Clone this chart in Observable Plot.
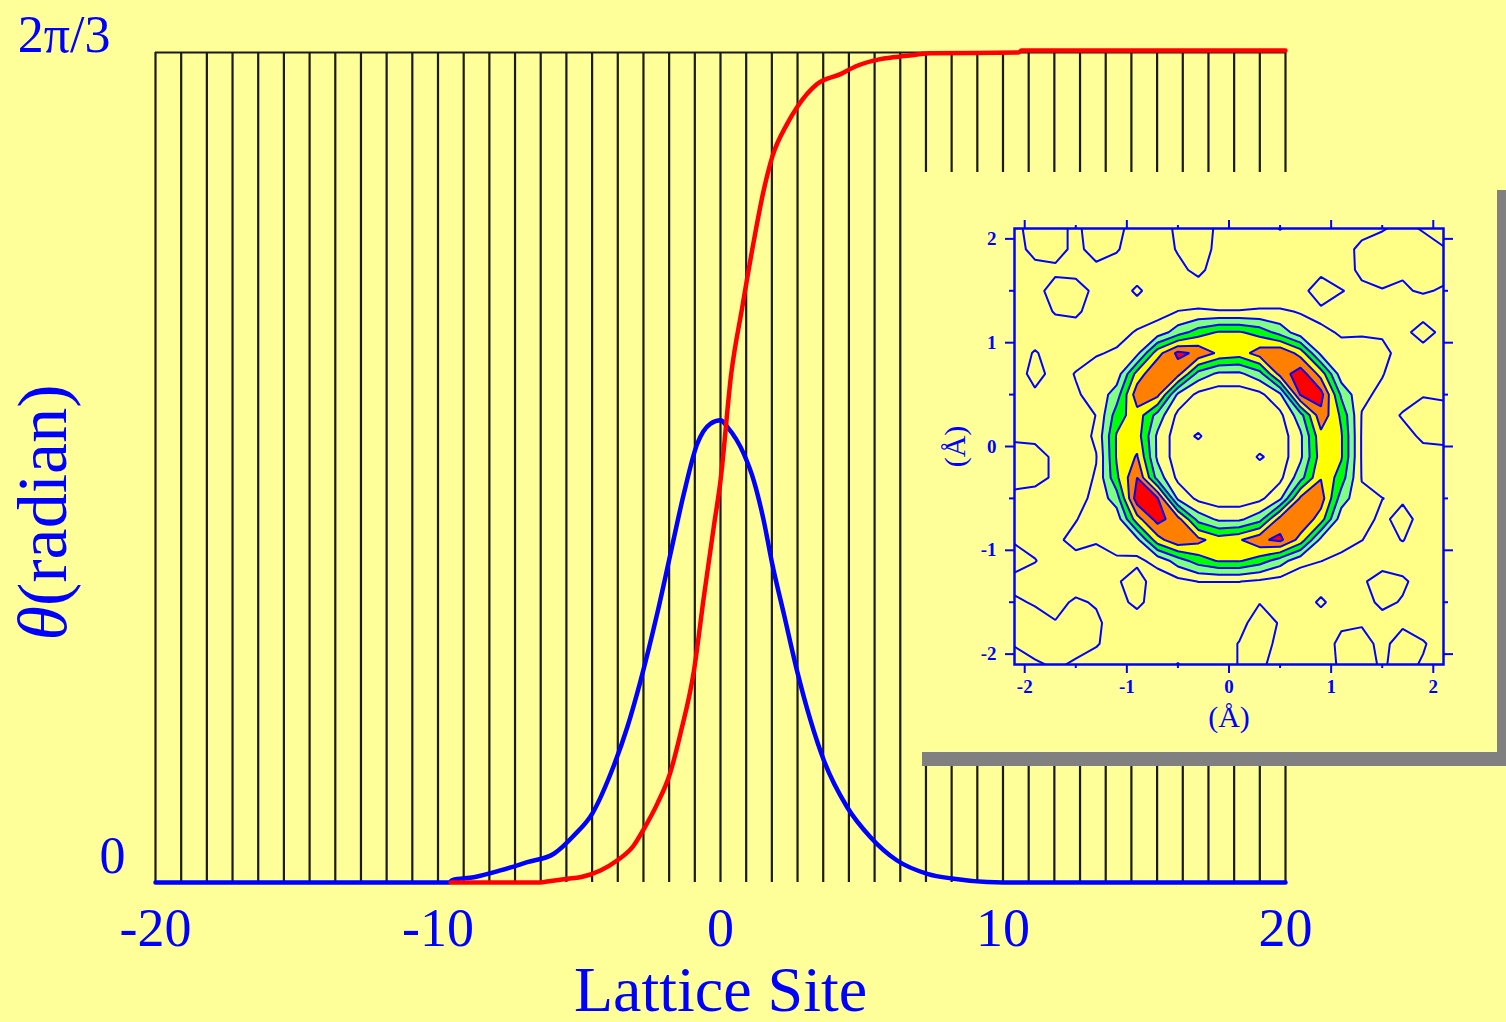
<!DOCTYPE html>
<html><head><meta charset="utf-8">
<script src="https://cdn.jsdelivr.net/npm/d3@7"></script>
<script src="https://cdn.jsdelivr.net/npm/@observablehq/plot@0.6"></script>
<style>
html,body{margin:0;padding:0;background:#FFFF99;overflow:hidden;}
#page{position:relative;width:1506px;height:1022px;background:#FFFF99;}
#main{position:absolute;left:0;top:0;}
#shadowR{position:absolute;left:1497px;top:190px;width:9px;height:576px;background:#808080;}
#shadowB{position:absolute;left:922px;top:752px;width:584px;height:14px;background:#808080;}
#panel{position:absolute;left:922px;top:172px;width:575px;height:580px;background:#FFFF99;}
</style></head>
<body>
<div id="page"><div id="main"></div><div id="shadowR"></div><div id="shadowB"></div><div id="panel"></div></div>
<script>
// ---------- main chart data ----------
const TOP = 2 * Math.PI / 3;            // 2π/3 radian
const xTicks = [-20, -10, 0, 10, 20];
const siteLines = [-20,-19.091,-18.182,-17.273,-16.364,-15.455,-14.545,-13.636,-12.727,-11.818,-10.909,-10,-9.091,-8.182,-7.273,-6.364,-5.455,-4.545,-3.636,-2.727,-1.818,-0.909,0,0.909,1.818,2.727,3.636,4.545,5.455,6.364,7.273,8.182,9.091,10,10.909,11.818,12.727,13.636,14.545,15.455,16.364,17.273,18.182,19.091,20];
const kinkX = [-9.55,-6.4,-6.0,-5.4,-4.96,-4.25,-3.66,-3.07,-2.71,-2.24,-1.79,-1.42,-0.94,-0.59,-0.24,0,0.38,0.77,1.18,1.53,1.83,2.36,2.71,3.42,4.25,4.84,5.66,6.6,7.4,10.55,10.65,20];
const kinkTheta = [0,0,0.004,0.0094,0.0134,0.0304,0.0555,0.0934,0.1355,0.1985,0.2744,0.3749,0.5341,0.7205,0.8964,1.0137,1.2839,1.4514,1.619,1.7467,1.8305,1.9143,1.9562,2.0148,2.0399,2.0609,2.0777,2.086,2.0923,2.0944,2.0994,2.0994];
const pulseX = [-20,-9.6,-9.5,-8.73,-7.79,-6.84,-5.9,-5.19,-4.54,-3.89,-3.3,-2.83,-2.24,-1.77,-1.3,-0.83,-0.35,0,0.24,0.83,1.18,1.53,1.83,2.24,2.71,3.19,3.66,4.48,5.31,6.25,7.32,8.26,9.44,10,20];
const pulseTheta = [0,0,0.006,0.0134,0.0304,0.0513,0.0725,0.1185,0.1738,0.2744,0.3917,0.5089,0.6786,0.8294,0.9802,1.1058,1.1582,1.1666,1.1498,1.0807,1.0137,0.9132,0.8042,0.6786,0.5341,0.4084,0.3079,0.1906,0.1144,0.0555,0.022,0.0094,0.001,0,0];

// ---------- inset data (density on a 22x22 grid, x,y from -2.1 to 2.1 step 0.2; first row y=2.1) ----------
const insetMajor = [-2, -1, 0, 1, 2];
const insetMinor = [-1.5, -0.5, 0.5, 1.5];
const levels = [1, 2, 3, 4, 5, 6];
const levelFills = ["#FFFF88", "#80FF80", "#00FF00", "#FFFF00", "#FF8000", "#FF0000"];
const densityRows = [
[0.6,1.6,1.6,0.6,2.0,1.3,0.5,0.5,1.2,1.8,0.7,0.5,0.5,1.05,0.5,0.5,0.5,0.6,0.9,1.3,0.9,0.4],
[0.5,1.4,1.6,0.6,1.6,1.1,0.4,0.4,1.1,1.7,0.6,0.3,0.3,0.3,0.3,0.4,0.5,1.3,1.6,1.7,1.5,1.1],
[0.4,0.6,0.7,0.5,0.6,0.5,0.4,0.4,0.7,1.3,0.4,0.3,0.3,0.3,0.3,0.6,0.4,1.3,1.4,1.1,1.6,1.3],
[0.4,0.5,1.6,1.7,0.6,0.4,1.2,0.4,0.4,0.4,0.3,0.3,0.4,0.4,0.5,1.8,1.05,0.7,0.95,0.9,1.1,0.9],
[0.3,0.4,1.1,1.2,0.5,0.4,0.4,0.7,1.02,1.1,1.05,1.05,1.1,1.1,0.95,0.7,0.5,0.4,0.5,0.4,0.4,0.4],
[0.4,0.4,0.4,0.5,0.5,0.6,1.1,1.4,2.5,3.5,4.1,4.1,3.6,2.6,1.4,1.2,0.9,0.9,0.85,0.6,1.6,0.6],
[0.4,1.1,0.5,0.6,0.9,1.15,1.7,4.6,6.25,5.8,4.8,4.5,5.5,5.9,4.6,1.7,1.3,1.4,1.3,0.6,0.4,0.4],
[0.4,1.4,0.6,1.05,1.5,1.4,4.4,6.0,5.4,2.6,1.8,1.8,2.6,5.4,6.6,4.6,1.4,1.5,1.05,0.5,0.4,0.4],
[0.4,0.8,0.5,0.9,1.3,2.5,5.6,5.3,1.8,0.75,0.45,0.45,0.75,1.8,6.1,6.4,2.8,1.2,0.8,0.5,0.9,0.8],
[0.4,0.4,0.4,0.5,1.02,3.5,4.6,2.6,0.75,0.2,0.2,0.2,0.2,0.75,2.6,5.7,3.8,0.95,0.5,1.1,1.7,1.5],
[0.8,0.75,0.5,0.4,1.2,4.1,4.5,1.8,0.45,1.15,0.2,0.2,0.2,0.45,1.8,4.7,4.1,0.9,0.4,0.6,1.2,1.3],
[1.5,1.4,0.8,0.5,0.95,4.1,5.1,1.8,0.45,0.2,0.2,0.2,1.15,0.45,1.8,4.5,4.1,0.9,0.4,0.4,0.6,0.6],
[1.4,1.3,0.85,0.5,1.1,3.8,6.0,2.6,0.75,0.2,0.2,0.2,0.2,0.75,2.6,4.95,3.5,0.95,0.4,0.4,0.4,0.4],
[0.7,0.6,0.5,0.6,1.3,2.5,6.6,6.1,1.8,0.75,0.45,0.45,0.75,1.8,5.2,5.5,2.5,1.2,1.02,0.8,0.4,0.4],
[0.4,0.5,0.6,0.95,1.5,1.4,4.6,6.4,5.4,2.6,1.8,1.8,2.6,5.4,5.9,4.5,1.4,1.5,0.7,1.5,0.5,0.4],
[0.9,0.6,0.8,1.3,1.1,1.3,1.7,4.6,5.8,5.3,4.5,4.9,5.8,6.25,4.6,1.7,1.3,1.02,0.6,1.05,0.4,0.4],
[1.4,1.05,0.5,0.7,0.6,0.9,0.8,1.3,2.5,3.5,4.1,4.1,3.5,2.5,1.3,1.02,0.8,0.5,0.4,0.4,0.4,0.4],
[0.7,0.5,0.4,0.5,0.5,0.9,1.4,0.5,0.7,1.02,1.02,1.02,0.8,0.6,0.4,0.4,0.4,0.8,1.6,1.2,0.5,0.4],
[1.15,0.9,0.7,1.15,0.9,0.6,1.3,0.4,0.4,0.4,0.4,0.4,0.95,0.4,0.4,1.2,0.4,0.5,1.3,0.9,0.4,0.4],
[1.6,1.4,1.05,1.5,1.2,0.5,0.4,0.4,0.4,0.4,0.4,0.6,1.6,0.9,0.4,0.4,0.8,0.9,0.5,0.8,0.5,0.4],
[1.1,1.6,1.6,1.5,1.1,0.5,0.4,0.4,0.4,0.4,0.5,1.05,1.5,0.7,0.4,0.4,1.3,1.4,0.7,1.5,1.1,0.5],
[0.4,0.8,1.2,0.8,0.5,0.4,0.4,0.4,1.05,0.4,0.5,1.05,1.2,0.6,0.4,0.4,1.2,1.3,0.9,1.3,0.9,0.4]
];

// ---------- build tables ----------
const kink = kinkX.map((x, i) => ({x, theta: kinkTheta[i]}));
const pulse = pulseX.map((x, i) => ({x, theta: pulseTheta[i]}));
const densityGrid = densityRows.flat();

const BLUE = "#0000ff";
const SERIF = "'Liberation Serif', 'Times New Roman', serif";
const fmt = d => String(d);

const main = Plot.plot({
  width: 1506, height: 1022,
  marginTop: 52, marginBottom: 140, marginLeft: 155, marginRight: 221,
  x: {domain: [-20, 20]},
  y: {domain: [0, TOP]},
  style: {background: "transparent", fontFamily: SERIF, overflow: "visible"},
  marks: [
    Plot.ruleX(siteLines, {y1: 0, y2: TOP, stroke: "#1a1a10", strokeWidth: 2.2}),
    Plot.ruleY([TOP], {x1: -20, x2: 20, stroke: "#1a1a10", strokeWidth: 2.2}),
    Plot.line(pulse, {x: "x", y: "theta", stroke: BLUE, strokeWidth: 4.5, curve: "monotone-x"}),
    Plot.line(kink, {x: "x", y: "theta", stroke: "#ff0000", strokeWidth: 4.5, curve: "monotone-x"}),
    Plot.axisX({ticks: xTicks, tickSize: 0, tickPadding: 25, tickFormat: fmt, fontSize: 54, color: BLUE, label: null}),
    Plot.axisY({ticks: [0], tickSize: 0, tickPadding: 30, dy: -26, tickFormat: () => "0", fontSize: 52, color: BLUE, label: null}),
    Plot.axisY({ticks: [TOP], tickSize: 0, tickPadding: 45, dy: -17, tickFormat: () => "2π/3", fontSize: 52, color: BLUE, label: null}),
    Plot.text(["Lattice Site"], {frameAnchor: "bottom", dy: 108, fontSize: 64, fill: BLUE, lineAnchor: "middle"}),
    Plot.text(["θ(radian)"], {frameAnchor: "left", textAnchor: "middle", dx: -112, dy: 45, rotate: -90, fontSize: 70, fill: BLUE, lineAnchor: "middle"})
  ]
});
document.getElementById("main").appendChild(main);
// italic theta
main.querySelectorAll("text").forEach(t => {
  if (t.textContent === "θ(radian)") {
    t.textContent = "";
    const ns = "http://www.w3.org/2000/svg";
    const a = document.createElementNS(ns, "tspan");
    a.setAttribute("font-style", "italic");
    a.textContent = "θ";
    const b = document.createElementNS(ns, "tspan");
    b.textContent = "(radian)";
    t.appendChild(a); t.appendChild(b);
  }
});

const tickOpts = {color: BLUE, strokeWidth: 2, label: null};
const inset = Plot.plot({
  width: 575, height: 580,
  marginTop: 56, marginRight: 54, marginBottom: 88, marginLeft: 92,
  x: {domain: [-2.1, 2.1]},
  y: {domain: [-2.1, 2.1]},
  color: {type: "ordinal", domain: levels, range: levelFills},
  style: {background: "transparent", fontFamily: SERIF, overflow: "visible"},
  marks: [
    Plot.frame({fill: "#FFFF88"}),
    Plot.contour(densityGrid, {width: 22, height: 22, x1: -2.2, y1: 2.2, x2: 2.2, y2: -2.2,
      thresholds: levels, fill: Plot.identity, stroke: BLUE, strokeWidth: 2, clip: true}),
    Plot.frame({stroke: BLUE, strokeWidth: 2.5}),
    Plot.axisX({...tickOpts, anchor: "bottom", ticks: insetMajor, tickSize: 9, tickPadding: 6, tickFormat: fmt, fontSize: 19, fontWeight: "bold"}),
    Plot.axisX({...tickOpts, anchor: "bottom", ticks: insetMinor, tickSize: 4, tickFormat: () => ""}),
    Plot.axisX({...tickOpts, anchor: "top", ticks: insetMajor, tickSize: 9, tickFormat: () => ""}),
    Plot.axisX({...tickOpts, anchor: "top", ticks: insetMinor, tickSize: 4, tickFormat: () => ""}),
    Plot.axisY({...tickOpts, anchor: "left", ticks: insetMajor, tickSize: 9, tickPadding: 9, tickFormat: fmt, fontSize: 19, fontWeight: "bold"}),
    Plot.axisY({...tickOpts, anchor: "left", ticks: insetMinor, tickSize: 5, tickFormat: () => ""}),
    Plot.axisY({...tickOpts, anchor: "right", ticks: insetMajor, tickSize: 9, tickFormat: () => ""}),
    Plot.axisY({...tickOpts, anchor: "right", ticks: insetMinor, tickSize: 4, tickFormat: () => ""}),
    Plot.text(["(Å)"], {frameAnchor: "bottom", dy: 53, fontSize: 30, fill: BLUE, lineAnchor: "middle"}),
    Plot.text(["(Å)"], {frameAnchor: "left", textAnchor: "middle", dx: -59, rotate: -90, fontSize: 30, fill: BLUE, lineAnchor: "middle"})
  ]
});
document.getElementById("panel").appendChild(inset);
</script>
</body></html>
